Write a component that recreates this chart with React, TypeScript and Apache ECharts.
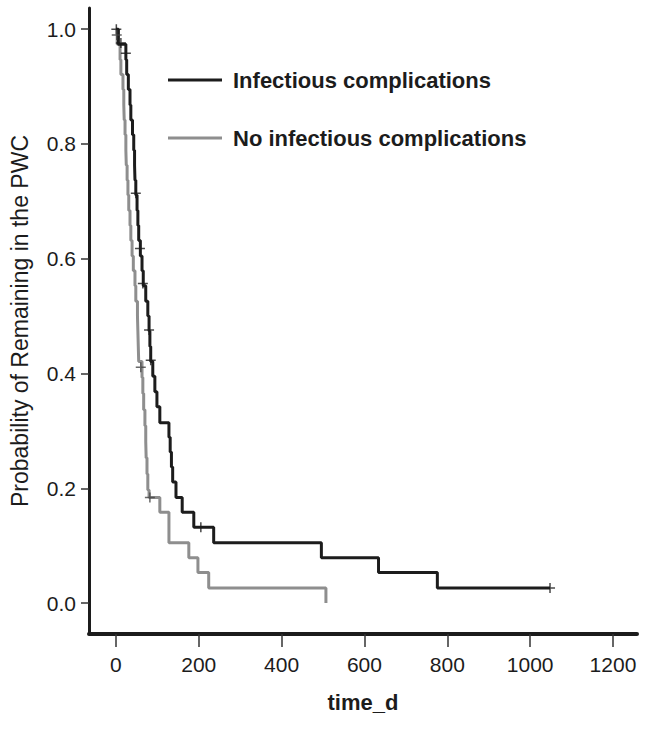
import React, { useEffect, useRef } from "react";
import * as echarts from "echarts";

// Kaplan–Meier step data (time in days, survival probability after the event)
const infTimes = [0, 6, 24, 26, 30, 34, 36, 40, 43, 45, 46, 48, 51, 53, 55, 59, 63, 66, 72, 77, 80, 82, 84, 89, 94, 99, 106, 128, 131, 134, 137, 145, 160, 188, 236, 496, 634, 776, 1048];
const infSurv = [1.0, 0.974, 0.947, 0.921, 0.895, 0.868, 0.842, 0.816, 0.789, 0.763, 0.737, 0.711, 0.684, 0.658, 0.632, 0.605, 0.579, 0.553, 0.526, 0.5, 0.474, 0.447, 0.421, 0.395, 0.368, 0.342, 0.314, 0.289, 0.263, 0.237, 0.211, 0.184, 0.158, 0.132, 0.105, 0.079, 0.053, 0.026, 0.026];

const noInfTimes = [0, 3, 10, 12, 17, 19, 20, 22, 24, 25, 27, 29, 31, 34, 36, 39, 42, 46, 48, 52, 53, 54, 55, 63, 65, 67, 70, 72, 73, 75, 77, 80, 106, 128, 176, 198, 224, 507];
const noInfSurv = [1.0, 0.974, 0.947, 0.921, 0.895, 0.868, 0.842, 0.816, 0.789, 0.763, 0.737, 0.711, 0.684, 0.658, 0.632, 0.605, 0.579, 0.553, 0.526, 0.5, 0.474, 0.447, 0.421, 0.393, 0.365, 0.337, 0.309, 0.281, 0.253, 0.225, 0.197, 0.184, 0.158, 0.105, 0.079, 0.053, 0.026, 0.0];

// Censoring marks
const infCensorT = [1, 12, 24, 48, 58, 65, 80, 84, 205, 1048];
const infCensorS = [1.0, 0.976, 0.958, 0.714, 0.618, 0.557, 0.476, 0.423, 0.132, 0.026];
const noInfCensorT = [2, 60, 82];
const noInfCensorS = [0.99, 0.411, 0.184];

const xTicks = [0, 200, 400, 600, 800, 1000, 1200];
const yTicks = [0, 0.2, 0.4, 0.6, 0.8, 1.0];

const seriesNames = ["Infectious complications", "No infectious complications"];

const BLACK = "#1c1c1c";
const GRAY = "#8e8e8e";
const FONT = "Liberation Sans, Arial, sans-serif";
const PLUS = "path://M4.25,0H5.75V4.25H10V5.75H5.75V10H4.25V5.75H0V4.25H4.25Z";

export default function App() {
  const ref = useRef<HTMLDivElement>(null);
  useEffect(() => {
    if (!ref.current) return;
    const chart = echarts.init(ref.current, null, { renderer: "svg" });
    const zip = (t: number[], s: number[]) => t.map((v, i) => [v, s[i]]);
    chart.setOption({
      animation: false,
      backgroundColor: "#ffffff",
      grid: { left: 88, right: 13, top: 8, bottom: 96, containLabel: false },
      legend: {
        orient: "vertical",
        left: 168,
        top: 69,
        padding: 0,
        itemGap: 36,
        itemWidth: 54,
        itemHeight: 3,
        icon: "rect",
        data: seriesNames,
        textStyle: { fontFamily: FONT, fontSize: 22, fontWeight: "bold", color: "#1c1c1c", padding: [0, 0, 0, 6] },
      },
      xAxis: {
        type: "value",
        min: -65,
        max: 1258,
        name: "time_d",
        nameLocation: "middle",
        nameGap: 57,
        nameTextStyle: { fontFamily: FONT, fontSize: 22, fontWeight: "bold", color: "#1c1c1c" },
        axisLine: { onZero: false, lineStyle: { color: "#1c1c1c", width: 4 } },
        axisTick: { show: true, length: 13, customValues: xTicks, lineStyle: { color: "#333", width: 1.5 } },
        axisLabel: {
          customValues: xTicks,
          margin: 20,
          fontFamily: FONT,
          fontSize: 21,
          color: "#1c1c1c",
          formatter: (v: number) => String(v),
        },
        splitLine: { show: false },
      },
      yAxis: {
        type: "value",
        min: -0.054,
        max: 1.037,
        name: "Probability of Remaining in the PWC",
        nameLocation: "middle",
        nameGap: 58,
        nameTextStyle: { fontFamily: FONT, fontSize: 23, color: "#1c1c1c" },
        axisLine: { onZero: false, lineStyle: { color: "#1c1c1c", width: 3 } },
        axisTick: { show: true, length: 8, customValues: yTicks, lineStyle: { color: "#333", width: 1.5 } },
        axisLabel: {
          customValues: yTicks,
          margin: 13,
          fontFamily: FONT,
          fontSize: 21,
          color: "#1c1c1c",
          formatter: (v: number) => v.toFixed(1),
        },
        splitLine: { show: false },
      },
      series: [
        {
          name: seriesNames[0],
          type: "line",
          step: "end",
          data: zip(infTimes, infSurv),
          showSymbol: false,
          lineStyle: { color: BLACK, width: 3 },
          itemStyle: { color: BLACK },
          z: 3,
        },
        {
          name: seriesNames[1],
          type: "line",
          step: "end",
          data: zip(noInfTimes, noInfSurv),
          showSymbol: false,
          lineStyle: { color: GRAY, width: 3 },
          itemStyle: { color: GRAY },
          z: 2,
        },
        {
          type: "scatter",
          data: zip(infCensorT, infCensorS),
          symbol: PLUS,
          symbolSize: 10,
          itemStyle: { color: BLACK },
          z: 4,
        },
        {
          type: "scatter",
          data: zip(noInfCensorT, noInfCensorS),
          symbol: PLUS,
          symbolSize: 10,
          itemStyle: { color: "#444" },
          z: 4,
        },
      ],
    });
    return () => chart.dispose();
  }, []);
  return <div ref={ref} style={{ width: 650, height: 730, position: "absolute", left: 0, top: 0 }} />;
}
